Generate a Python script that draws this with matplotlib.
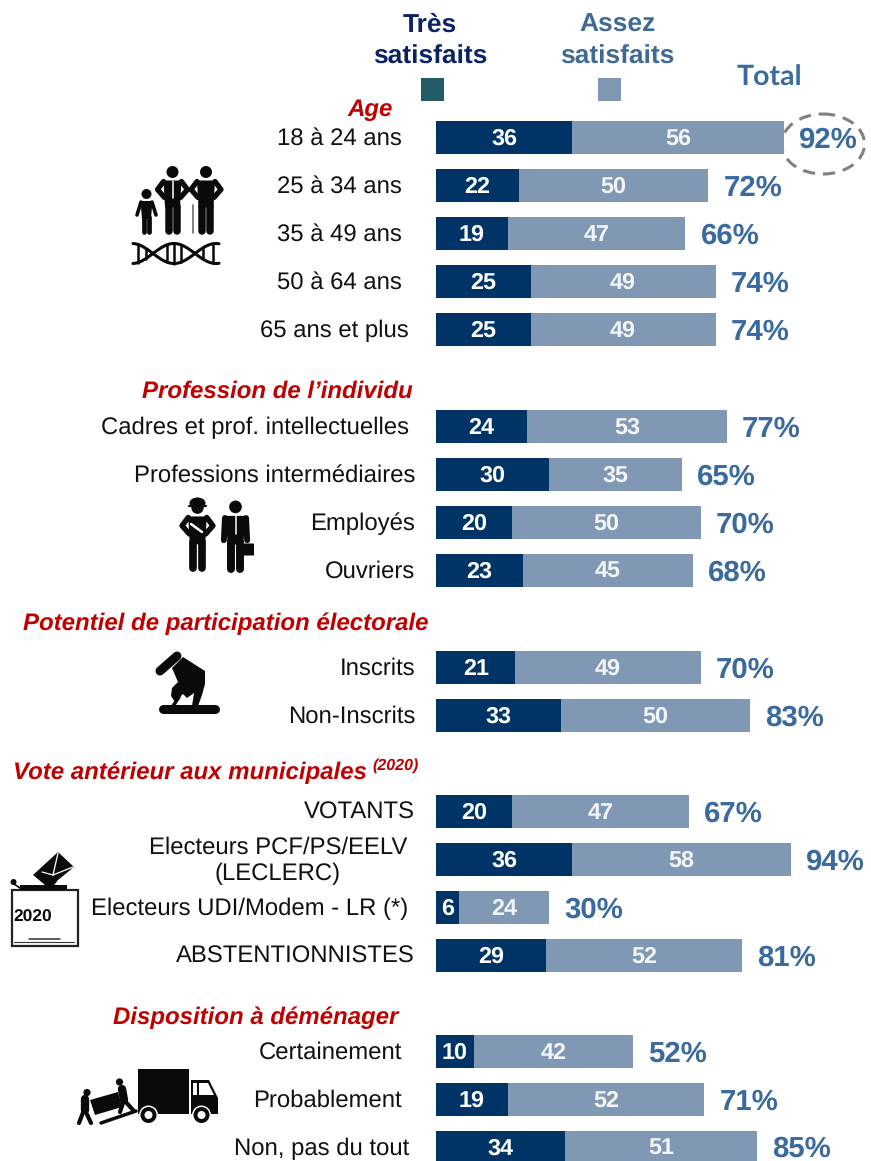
import matplotlib
matplotlib.use('Agg')
import matplotlib.pyplot as plt
import numpy as np
from matplotlib.patches import Rectangle, Circle, Ellipse, Polygon, FancyBboxPatch

# data
categories = ["18 à 24 ans", "25 à 34 ans", "35 à 49 ans", "50 à 64 ans", "65 ans et plus",
              "Cadres et prof. intellectuelles", "Professions intermédiaires", "Employés", "Ouvriers",
              "Inscrits", "Non-Inscrits",
              "VOTANTS", "Electeurs PCF/PS/EELV\n(LECLERC)", "Electeurs UDI/Modem - LR (*)", "ABSTENTIONNISTES",
              "Certainement", "Probablement", "Non, pas du tout"]
tres_satisfaits = [36, 22, 19, 25, 25, 24, 30, 20, 23, 21, 33, 20, 36, 6, 29, 10, 19, 34]
assez_satisfaits = [56, 50, 47, 49, 49, 53, 35, 50, 45, 49, 50, 47, 58, 24, 52, 42, 52, 51]
totals = [92, 72, 66, 74, 74, 77, 65, 70, 68, 70, 83, 67, 94, 30, 81, 52, 71, 85]
sections = ["Age", "Profession de l’individu", "Potentiel de participation électorale",
            "Vote antérieur aux municipales", "Disposition à déménager"]

# layout, in pixels of the picture
row_y = [137.5, 185.5, 233.5, 281.5, 329.5, 426.5, 474.5, 522.5, 570.5, 667.5, 715.5,
         811.5, 859.5, 907.5, 955.5, 1051.5, 1099.5, 1147.5]
label_right = [402, 402, 402, 402, 409, 409, 415, 415, 415, 415, 415, 415, 408, 408, 415, 402, 402, 409]
section_right = [393, 413, 428, 367, 398]
section_y = [110, 392, 624, 773, 1018]

DARK = "#003366"
LIGHT = "#8098B3"
BLUE = "#3A6A9E"
RED = "#C00000"
BLACK = "#0A0A0A"
SANS = "Liberation Sans"

plt.rcParams['text.hinting'] = 'none'

fig = plt.figure(figsize=(8.71, 11.61), dpi=100)
ax = fig.add_axes([0, 0, 1, 1])
ax.set_xlim(0, 871)
ax.set_ylim(1161, 0)
ax.axis('off')

# bars axes: same vertical pixels, x in percent
bx = fig.add_axes([436 / 871, 0, 435 / 871, 1])
bx.set_xlim(0, 435 / 3.78)
bx.set_ylim(1161, 0)
bx.axis('off')
bx.patch.set_alpha(0)

bx.barh(row_y, tres_satisfaits, height=33, color=DARK)
bx.barh(row_y, assez_satisfaits, left=tres_satisfaits, height=33, color=LIGHT)
for i, y in enumerate(row_y):
    a, b = tres_satisfaits[i], assez_satisfaits[i]
    bx.text(a / 2, y + 1.5, str(a), color="white", fontsize=16.8, fontweight='bold',
            family=SANS, ha='center', va='center')
    bx.text(a + b / 2, y + 1.5, str(b), color="#F2F4F7", fontsize=16.8, fontweight='bold',
            family=SANS, ha='center', va='center')
    # last total sits right on the bottom edge
    bx.text(a + b + 4.0, min(y + 3, 1149.5), "%d%%" % totals[i], color=BLUE, fontsize=21.2,
            fontweight='bold', family=SANS, ha='left', va='center')

# row labels
for i, lab in enumerate(categories):
    if "\n" in lab:
        ax.text(278, row_y[i] + 1, lab, fontsize=17.2, family=SANS, color="#111111",
                ha='center', va='center', linespacing=1.2)
    else:
        ax.text(label_right[i], row_y[i] + 1.5, lab, fontsize=17.2, family=SANS, color="#111111",
                ha='right', va='center')

# section titles
for s, r, y in zip(sections, section_right, section_y):
    ax.text(r, y, s, fontsize=17.3, family=SANS, fontweight='bold', style='italic',
            color=RED, ha='right', va='center')
ax.text(372, 766, "(2020)", fontsize=11.5, family=SANS, fontweight='bold', style='italic',
        color=RED, ha='left', va='center')

# legend
ax.text(430, 41, "Très\nsatisfaits", fontsize=19, family=SANS, fontweight='bold', color="#0B2265",
        ha='center', va='center', linespacing=1.45)
ax.text(617, 41, "Assez\nsatisfaits", fontsize=19, family=SANS, fontweight='bold', color="#3F6A94",
        ha='center', va='center', linespacing=1.45)
ax.text(769, 78, "Total", fontsize=20.5, family="Lato", fontweight='bold', color=BLUE,
        ha='center', va='center')
ax.add_patch(Rectangle((421, 78), 23, 23, color="#235A68", lw=0))
ax.add_patch(Rectangle((598, 78), 23, 23, color=LIGHT, lw=0))

# dashed circle around 92%
ax.add_patch(Ellipse((823, 144), 83, 60, fill=False, ec="#808080", lw=2.2, ls=(0, (4, 2.6))))


def line(xs, ys, lw, color=BLACK):
    ax.plot(xs, ys, color=color, lw=lw, solid_capstyle='round', solid_joinstyle='round')


def poly(pts, color=BLACK):
    ax.add_patch(Polygon(pts, closed=True, color=color, lw=0))


def person(cx, top, h, arms="hips", tie=False):
    k = h / 68.0
    ax.add_patch(Circle((cx, top + 6.5 * k), 6 * k, color=BLACK, lw=0))
    poly([(cx - 9 * k, top + 15 * k), (cx + 9 * k, top + 15 * k), (cx + 7.5 * k, top + 42 * k),
          (cx - 7.5 * k, top + 42 * k)])
    if arms == "hips":
        line([cx - 9 * k, cx - 15 * k, cx - 8 * k], [top + 16 * k, top + 24 * k, top + 32 * k], 3.8 * k)
        line([cx + 9 * k, cx + 15 * k, cx + 8 * k], [top + 16 * k, top + 24 * k, top + 32 * k], 3.8 * k)
    else:
        line([cx - 10 * k, cx - 11 * k], [top + 17 * k, top + 38 * k], 4 * k)
        line([cx + 10 * k, cx + 11 * k], [top + 17 * k, top + 38 * k], 4 * k)
    line([cx - 4 * k, cx - 4 * k], [top + 40 * k, top + 65 * k], 5.4 * k)
    line([cx + 4 * k, cx + 4 * k], [top + 40 * k, top + 65 * k], 5.4 * k)
    if tie:
        line([cx, cx], [top + 15 * k, top + 32 * k], 1.1, "white")


# family + dna icon
ax.add_patch(Circle((146.5, 194), 5, color=BLACK, lw=0))
poly([(140.5, 201), (152.5, 201), (151, 219), (142, 219)])
line([141, 137], [202, 215], 2.6)
line([152, 156], [202, 215], 2.6)
line([144, 144], [217, 232], 3.4)
line([149, 149], [217, 232], 3.4)
person(172.5, 165.5, 68, tie=True)
person(206, 165.5, 68)
line([193, 193], [205, 233], 1.3, "#777777")
dna_x = np.linspace(133, 219, 120)
dna_y = 10 * np.sin((dna_x - 153) / 42 * np.pi)
line(dna_x, 253.5 + dna_y, 2.2)
line(dna_x, 253.5 - dna_y, 2.2)
for x0 in [138, 146, 166.5, 174, 181, 203, 213]:
    h0 = 10 * abs(np.sin((x0 - 153) / 42 * np.pi))
    line([x0, x0], [253.5 - h0, 253.5 + h0], 1.8)

# workers icon
person(197.5, 501, 70)
ax.add_patch(Ellipse((197.5, 503), 16, 11, color=BLACK, lw=0))
line([189, 206], [506, 506], 1.6)
line([191, 202], [524, 532], 1.8, "white")
person(235.5, 500, 72, arms="down", tie=True)
ax.add_patch(FancyBboxPatch((238.5, 544), 15, 11, boxstyle="round,pad=0.5", color=BLACK, lw=0))

# voting hand icon
line([160, 177], [671, 656], 6.5)
poly([(172, 668), (183, 657), (205, 671), (205, 684), (202, 695), (198, 706), (192, 706), (194, 693),
      (187, 698), (183, 694), (175, 702), (171, 696), (172, 688), (178, 682)])
line([163, 215], [709, 709], 6.5)
line([173, 179], [706, 697], 2.5)

# ballot box icon
ax.add_patch(Rectangle((11.5, 890), 66, 56, fill=False, ec="#222222", lw=1.6))
ax.add_patch(Rectangle((20, 885), 47, 5, color=BLACK, lw=0))
poly([(33, 875), (58, 852), (74, 867), (58, 880), (52, 888), (45, 885)])
line([42, 53], [872, 875], 0.9, "white")
line([58, 53], [853, 875], 0.9, "white")
line([53, 73], [875, 867], 0.9, "white")
ax.add_patch(Circle((13.5, 882), 3, color=BLACK, lw=0))
line([14, 20], [884, 888], 1.2)
ax.text(13, 917.5, "2020", fontsize=12.5, family=SANS, fontweight='bold', color=BLACK,
        ha='left', va='center')
line([14, 74], [942, 942], 0.8, "#333333")
line([29, 60], [938.5, 938.5], 1.1, "#333333")

# truck icon
ax.add_patch(Rectangle((138, 1069), 51, 45, color=BLACK, lw=0))
poly([(191, 1114), (191, 1080), (209, 1080), (218, 1098), (218, 1114)])
poly([(192.5, 1083), (197, 1083), (197, 1095), (192.5, 1095)], "white")
poly([(199, 1083), (208, 1083), (214, 1095), (199, 1095)], "white")
for wx in [148.5, 201.5]:
    ax.add_patch(Circle((wx, 1115), 9.5, color="white", lw=0))
    ax.add_patch(Circle((wx, 1115), 8, color=BLACK, lw=0))
    ax.add_patch(Circle((wx, 1115), 4, color="white", lw=0))
line([101, 136], [1123, 1111], 2.5)
# movers and their load
poly([(90, 1100), (118, 1092), (122, 1107), (95, 1115)])
ax.add_patch(Circle((87, 1092.5), 3.6, color=BLACK, lw=0))
line([85, 85], [1099, 1110], 6)
line([84, 79], [1110, 1123], 3)
line([85, 91], [1110, 1123], 3)
ax.add_patch(Circle((119.5, 1082), 3.6, color=BLACK, lw=0))
line([122, 124], [1089, 1100], 6)
line([124, 120], [1100, 1112], 3)
line([124, 133], [1100, 1110], 3)

fig.savefig("out.png", dpi=100)
